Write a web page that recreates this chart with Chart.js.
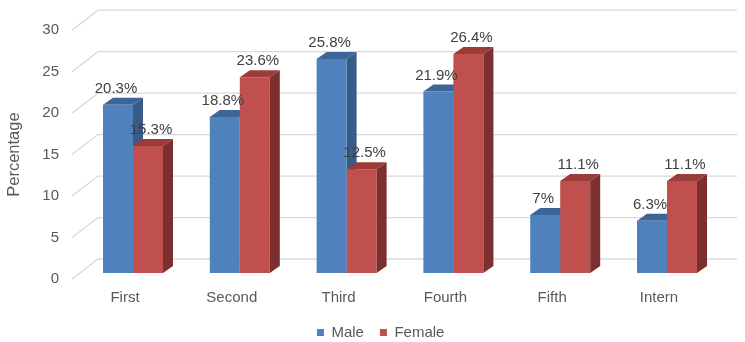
<!DOCTYPE html>
<html>
<head>
<meta charset="utf-8">
<script src="https://cdn.jsdelivr.net/npm/chart.js@4/dist/chart.umd.min.js"></script>
<style>
  html, body { margin: 0; padding: 0; background: #fff; }
  #wrap { width: 745px; height: 342px; }
</style>
</head>
<body>
<div id="wrap"><canvas id="myChart"></canvas></div>
<script>
const years = ['First', 'Second', 'Third', 'Fourth', 'Fifth', 'Intern'];
const male = [20.3, 18.8, 25.8, 21.9, 7, 6.3];
const female = [15.3, 23.6, 12.5, 26.4, 11.1, 11.1];
const yTicks = [0, 5, 10, 15, 20, 25, 30];

const FONT = 'Liberation Sans, Arial, sans-serif';
// depth of the bars and of the back wall
const DX = 10, DY = 7;
const WALL_X0 = 72, WALL_X1 = 98, WALL_RIGHT = 737;

const faces = [
  { top: '#3d6698', side: '#385b87', labelShift: -2 },
  { top: '#9c3c3a', side: '#7b2f2e', labelShift: 3 }
];

function drawFaces(chart, i) {
  const { ctx } = chart;
  const f = faces[i];
  ctx.save();
  chart.getDatasetMeta(i).data.forEach(bar => {
    const l = bar.x - bar.width / 2, r = bar.x + bar.width / 2;
    const t = bar.y, b = bar.base;
    ctx.fillStyle = f.top;
    ctx.beginPath();
    ctx.moveTo(l, t);
    ctx.lineTo(l + DX, t - DY);
    ctx.lineTo(r + DX, t - DY);
    ctx.lineTo(r, t);
    ctx.closePath();
    ctx.fill();
    ctx.fillStyle = f.side;
    ctx.beginPath();
    ctx.moveTo(r, t);
    ctx.lineTo(r + DX, t - DY);
    ctx.lineTo(r + DX, b - DY);
    ctx.lineTo(r, b);
    ctx.closePath();
    ctx.fill();
  });
  ctx.restore();
}

// slanted floor-to-wall grid lines
const wallGrid = {
  id: 'wallGrid',
  beforeDatasetsDraw(chart) {
    const { ctx, scales: { y } } = chart;
    ctx.save();
    ctx.strokeStyle = '#d9d9d9';
    ctx.lineWidth = 1.3;
    yTicks.forEach(v => {
      const py = y.getPixelForValue(v);
      ctx.beginPath();
      ctx.moveTo(WALL_X0, py + 6);
      ctx.lineTo(WALL_X1, py - 14);
      ctx.lineTo(WALL_RIGHT, py - 14);
      ctx.stroke();
    });
    ctx.restore();
  }
};

// Chart.js paints Female first, then Male; the Male sides sit behind Female
const bars3d = {
  id: 'bars3d',
  beforeDatasetDraw(chart, args) {
    if (args.index === 1) drawFaces(chart, 0);
  },
  afterDatasetDraw(chart, args) {
    if (args.index === 1) drawFaces(chart, 1);
  },
  afterDatasetsDraw(chart) {
    const { ctx, chartArea } = chart;
    ctx.save();
    ctx.fillStyle = '#404040';
    ctx.font = '15px ' + FONT;
    ctx.textAlign = 'center';
    ctx.textBaseline = 'middle';
    chart.data.datasets.forEach((ds, i) => {
      chart.getDatasetMeta(i).data.forEach((bar, j) => {
        ctx.fillText(ds.data[j] + '%', bar.x + faces[i].labelShift, bar.y - 16);
      });
    });
    // axis title
    ctx.fillStyle = '#595959';
    ctx.font = '16.5px ' + FONT;
    ctx.translate(14, (chartArea.top + chartArea.bottom) / 2 + 6);
    ctx.rotate(-Math.PI / 2);
    ctx.fillText('Percentage', 0, 0);
    ctx.restore();
  }
};

const ctx = document.getElementById('myChart');

new Chart(ctx, {
  type: 'bar',
  data: {
    labels: years,
    datasets: [
      {
        label: 'Male',
        data: male,
        backgroundColor: '#4f81bd',
        borderWidth: 0
      },
      {
        label: 'Female',
        data: female,
        backgroundColor: '#c0504d',
        borderWidth: 0
      }
    ]
  },
  options: {
    responsive: true,
    maintainAspectRatio: false,
    animation: false,
    layout: {
      padding: { top: 24.2, right: 24.6, bottom: -8, left: 41 }
    },
    datasets: {
      bar: { categoryPercentage: 0.5618, barPercentage: 1 }
    },
    plugins: {
      tooltip: { enabled: false },
      legend: {
        position: 'bottom',
        labels: {
          boxWidth: 7,
          boxHeight: 7,
          padding: 16,
          color: '#595959',
          font: { family: FONT, size: 15 }
        }
      }
    },
    scales: {
      x: {
        grid: { display: false, drawTicks: false },
        border: { display: false },
        ticks: {
          color: '#595959',
          font: { family: FONT, size: 15 },
          padding: 16,
          labelOffset: -8,
          maxRotation: 0
        },
        afterFit(scale) { scale.height = 36; }
      },
      y: {
        min: 0,
        max: 30,
        grid: { display: false, drawTicks: true, tickLength: 18 },
        border: { display: false },
        ticks: {
          stepSize: 5,
          color: '#595959',
          font: { family: FONT, size: 15 },
          padding: 2.6,
          labelOffset: 6
        },
        afterFit(scale) { scale.width = 38.6; }
      }
    }
  },
  plugins: [wallGrid, bars3d]
});
</script>
</body>
</html>
